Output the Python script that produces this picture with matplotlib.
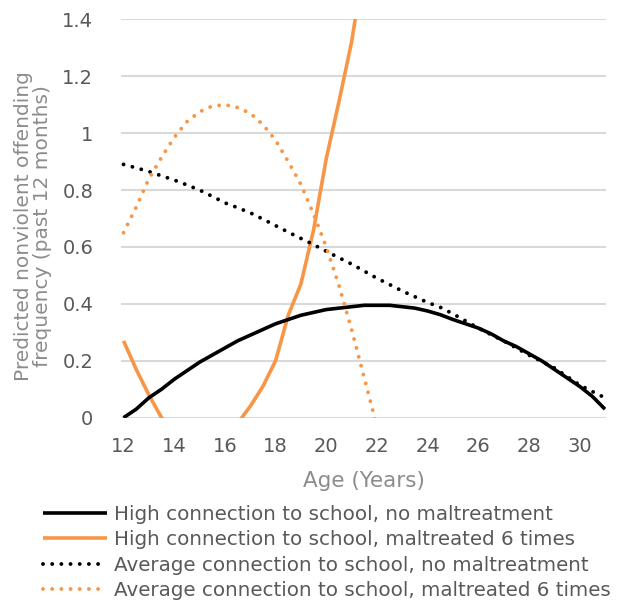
import numpy as np
import matplotlib
matplotlib.use("Agg")
import matplotlib.pyplot as plt

nan = np.nan

ages = [12, 12.5, 13, 13.5, 14, 14.5, 15, 15.5, 16, 16.5, 17, 17.5, 18, 18.5,
        19, 19.5, 20, 20.5, 21, 21.5, 22, 22.5, 23, 23.5, 24, 24.5, 25, 25.5,
        26, 26.5, 27, 27.5, 28, 28.5, 29, 29.5, 30, 30.5, 31]

high_no_mal = [0.00, 0.03, 0.07, 0.10, 0.135, 0.165, 0.195, 0.22, 0.245, 0.27,
               0.29, 0.31, 0.33, 0.345, 0.36, 0.37, 0.38, 0.385, 0.39, 0.395,
               0.395, 0.395, 0.39, 0.385, 0.375, 0.362, 0.345, 0.33, 0.315,
               0.295, 0.27, 0.25, 0.225, 0.20, 0.17, 0.14, 0.11, 0.075, 0.03]

high_mal6 = [0.27, 0.17, 0.08, 0.00, -0.06, -0.10, -0.12, -0.11, -0.07, -0.02,
             0.04, 0.11, 0.20, 0.36, 0.47, 0.66, 0.91, 1.11, 1.32, 1.60,
             nan, nan, nan, nan, nan, nan, nan, nan, nan, nan, nan, nan, nan,
             nan, nan, nan, nan, nan, nan]

avg_no_mal = [0.89, 0.878, 0.865, 0.85, 0.835, 0.818, 0.80, 0.778, 0.755,
              0.738, 0.72, 0.698, 0.675, 0.652, 0.63, 0.608, 0.585, 0.562,
              0.54, 0.515, 0.49, 0.468, 0.445, 0.425, 0.405, 0.388, 0.365,
              0.34, 0.315, 0.292, 0.27, 0.245, 0.22, 0.198, 0.175, 0.145,
              0.115, 0.092, 0.07]

avg_mal6 = [0.65, 0.74, 0.84, 0.915, 0.985, 1.04, 1.075, 1.095, 1.10, 1.09,
            1.07, 1.03, 0.975, 0.90, 0.82, 0.715, 0.60, 0.465, 0.31, 0.14,
            -0.03, nan, nan, nan, nan, nan, nan, nan, nan, nan, nan, nan, nan,
            nan, nan, nan, nan, nan, nan]

labels = ["High connection to school, no maltreatment",
          "High connection to school, maltreated 6 times",
          "Average connection to school, no maltreatment",
          "Average connection to school, maltreated 6 times"]

x_ticks = [12, 14, 16, 18, 20, 22, 24, 26, 28, 30]
y_ticks = [0, 0.2, 0.4, 0.6, 0.8, 1.0, 1.2, 1.4]
y_tick_labels = ["0", "0.2", "0.4", "0.6", "0.8", "1", "1.2", "1.4"]

BLACK = "#000000"
ORANGE = "#F79646"
TICK_GRAY = "#595959"
TITLE_GRAY = "#8C8C8C"

plt.rcParams["font.family"] = ["DejaVu Sans"]

fig = plt.figure(figsize=(6.21, 6.01), dpi=100)
ax = fig.add_axes([121 / 621, 1 - 417.7 / 601, (606 - 121) / 621, (417.7 - 19.3) / 601])

dot = (0, (0.01, 2.35))
ax.plot(ages, high_no_mal, color=BLACK, lw=2.6, solid_capstyle="butt", label=labels[0], zorder=4)
ax.plot(ages, high_mal6, color=ORANGE, lw=2.6, solid_capstyle="butt", label=labels[1], zorder=3)
ax.plot(ages, avg_no_mal, color=BLACK, lw=2.8, linestyle=dot, dash_capstyle="round", label=labels[2], zorder=5)
ax.plot(ages, avg_mal6, color=ORANGE, lw=2.8, linestyle=dot, dash_capstyle="round", label=labels[3], zorder=5)

ax.set_xlim(11.9, 31.04)
ax.set_ylim(0, 1.4)
ax.set_xticks(x_ticks)
ax.set_yticks(y_ticks)
ax.set_yticklabels(y_tick_labels)
ax.tick_params(axis="both", length=0, labelsize=14, labelcolor=TICK_GRAY)
ax.tick_params(axis="x", pad=14)
ax.tick_params(axis="y", pad=20)
ax.grid(axis="y", color="#D9D9D9", lw=1.5)
ax.set_axisbelow(True)
for s in ax.spines.values():
    s.set_visible(False)

ax.set_xlabel("Age (Years)", fontsize=15.5, color=TITLE_GRAY, labelpad=11)
ax.set_ylabel("Predicted nonviolent offending\nfrequency (past 12 months)",
              fontsize=14.5, color=TITLE_GRAY, linespacing=1.0)
ax.yaxis.set_label_coords(-0.142, 0.48)

handles, labs = ax.get_legend_handles_labels()
fig.legend(handles, labs, loc="upper left", bbox_to_anchor=(43 / 621, 1 - 505 / 601),
           frameon=False, fontsize=14.3, labelcolor=TICK_GRAY, handlelength=3.2,
           handletextpad=0.4, labelspacing=0.32, borderpad=0, borderaxespad=0)

fig.savefig("out.png", dpi=100)
